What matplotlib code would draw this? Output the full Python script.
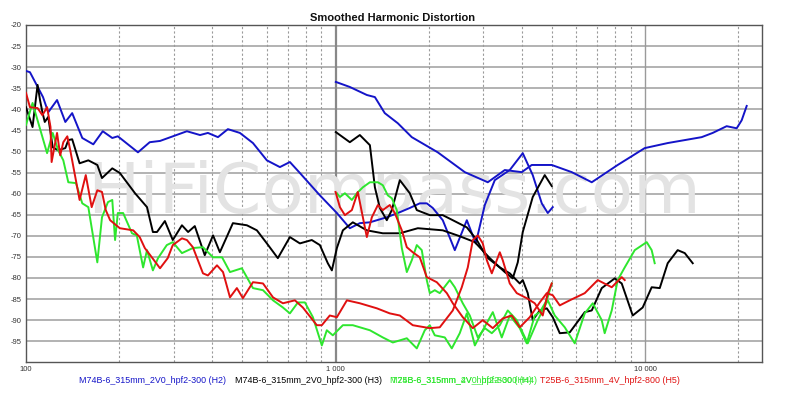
import matplotlib
matplotlib.use("Agg")
import matplotlib.pyplot as plt
from matplotlib.ticker import FixedLocator, NullLocator

# ── data (Hz, dB) ──────────────────────────────────────────
# set A: M74B-6_315mm_2V0_hpf2-300
h2a_f = [100, 103, 113.5, 118, 126, 134, 141, 152, 165, 177, 190, 198, 230, 251, 271,
         331, 365, 387, 417, 449, 491, 541, 600, 661, 712, 767, 890, 1010, 1112, 1198,
         1291, 1464, 1613, 1737, 1871, 1971, 2061, 2220, 2428, 2655, 2838, 3035, 3269,
         3654, 4025, 4335, 4636, 4848, 5031]
h2a_db = [-30.9, -31.2, -37.1, -40.7, -37.8, -43.0, -40.9, -46.8, -48.3, -45.2, -46.8,
          -46.4, -50.2, -47.8, -47.5, -45.2, -46.1, -45.6, -46.6, -44.7, -45.6, -48.0,
          -52.1, -53.7, -52.5, -55.1, -60.4, -64.6, -68.2, -67.0, -66.8, -65.6, -64.4,
          -63.4, -62.3, -62.3, -63.4, -66.3, -73.4, -66.3, -71.8, -62.7, -56.8, -54.4,
          -50.4, -55.6, -62.3, -64.6, -63.2]

h3a_f = [100, 105, 109, 111, 113, 115, 118, 122, 127, 134, 137, 141, 149, 159, 170, 176,
         190, 201, 225, 246, 257, 265, 281, 298, 319, 334, 351, 378, 402, 423, 466, 517,
         557, 600, 651, 712, 767, 838, 890, 944, 973, 1010, 1056, 1137, 1262, 1421, 1613,
         1844, 2220, 2519, 2818, 3150, 3521, 3736, 3878, 4025, 4335, 4740, 4994]
h3a_db = [-39.5, -44.2, -34.2, -37.8, -40.7, -43.0, -41.8, -49.0, -49.7, -49.2, -47.3,
          -47.1, -52.8, -52.1, -53.2, -56.3, -54.0, -55.1, -59.9, -63.2, -69.1, -69.1,
          -66.5, -71.0, -67.5, -69.1, -67.7, -74.6, -69.9, -73.9, -67.0, -67.5, -68.7,
          -71.8, -75.3, -70.3, -71.8, -71.0, -72.2, -76.5, -78.2, -72.9, -68.7, -66.8,
          -68.7, -69.4, -69.4, -68.2, -68.7, -70.1, -71.5, -75.3, -78.6, -80.1, -76.3,
          -69.1, -60.8, -55.6, -58.2]

h4a_f = [100, 105, 117, 122, 127, 132, 137, 145, 152, 159, 170, 176, 184, 190, 194, 198,
         206, 220, 228, 239, 246, 257, 267, 285, 298, 319, 346, 373, 402, 430, 456, 498,
         541, 583, 628, 676, 712, 756, 796, 845, 903, 937, 980, 1056, 1137, 1291, 1421,
         1531, 1699, 1830, 1942, 2016, 2092, 2254, 2374, 2519, 2655, 2818, 2990, 3221,
         3443, 3654, 3936, 4146, 4400, 4567, 4812, 4994]
h4a_db = [-43.7, -38.5, -50.4, -45.6, -49.7, -52.1, -57.3, -57.5, -62.3, -63.2, -76.3,
          -65.6, -62.0, -61.5, -71.0, -64.6, -64.6, -69.4, -69.9, -77.5, -73.4, -78.2,
          -75.3, -72.2, -71.5, -74.1, -72.9, -72.7, -75.1, -75.1, -78.6, -77.7, -82.4,
          -82.9, -85.3, -87.0, -88.4, -85.8, -85.8, -89.3, -96.0, -92.4, -93.6, -91.2,
          -91.2, -92.4, -94.1, -95.3, -94.3, -96.7, -92.4, -91.2, -93.6, -94.1, -96.7,
          -93.1, -88.4, -96.0, -92.4, -88.1, -94.1, -88.9, -91.9, -95.5, -88.9, -88.1,
          -85.3, -81.3]

h5a_f = [100, 103, 109, 113, 117, 120, 121, 126, 129, 132, 136, 139, 149, 156, 163, 170,
         176, 181, 187, 201, 222, 233, 242, 255, 271, 287, 298, 319, 331, 346, 373, 387,
         414, 433, 456, 480, 502, 541, 583, 628, 676, 739, 784, 870, 903, 958, 1010, 1088,
         1198, 1360, 1497, 1613, 1776, 2016, 2171, 2392, 2557, 2674, 2776, 2881, 2990,
         3081, 3197, 3393, 3469, 3654, 3850, 4146, 4400, 4670, 4848, 4994]
h5a_db = [-36.1, -39.5, -39.7, -41.4, -39.5, -44.2, -52.5, -45.6, -50.9, -47.8, -46.4,
          -49.7, -61.5, -55.6, -63.2, -59.2, -59.6, -63.9, -66.3, -68.2, -68.7, -70.3,
          -72.9, -75.1, -77.7, -75.3, -72.2, -70.6, -71.0, -72.7, -78.9, -79.4, -77.0,
          -78.6, -84.6, -82.4, -84.8, -81.0, -81.3, -84.6, -86.0, -85.3, -87.0, -91.2,
          -91.2, -88.9, -89.3, -85.3, -86.0, -87.2, -88.4, -88.9, -91.2, -91.9, -91.7,
          -87.7, -82.2, -77.5, -71.0, -69.9, -71.8, -75.8, -78.9, -73.9, -75.8, -81.3,
          -83.6, -84.8, -86.0, -88.9, -83.6, -81.3]

# set B: T25B-6_315mm_4V_hpf2-800
h2b_f = [1002, 1112, 1262, 1340, 1442, 1589, 1763, 2139, 2615, 3103, 3521, 3995, 4303,
         4994, 5795, 6724, 8155, 9970, 11830, 15230, 16530, 18340, 19760, 20510, 21290]
h2b_db = [-33.5, -34.7, -36.6, -37.1, -40.9, -43.3, -46.6, -50.2, -54.9, -57.3, -54.4,
          -54.9, -53.2, -53.2, -54.9, -57.3, -53.2, -49.2, -48.0, -46.6, -45.6, -44.0,
          -44.5, -42.6, -39.2]

h3b_f = [1002, 1112, 1198, 1291, 1340, 1390, 1464, 1520, 1613, 1737, 1830, 2016, 2220,
         2392, 2655, 2860, 3081, 3393, 3654, 3936, 4025, 4177, 4335, 4567, 4812, 5031,
         5300, 5709, 6383, 6724, 7243, 7979, 8403, 9120, 9822, 10500, 11150, 11830,
         12740, 13430, 14250]
h3b_db = [-45.4, -47.8, -46.1, -48.5, -58.5, -63.4, -66.3, -63.9, -56.8, -59.9, -63.9,
          -65.1, -65.1, -66.3, -68.0, -71.0, -75.1, -77.5, -78.9, -81.3, -80.5, -83.6,
          -90.0, -87.7, -87.2, -89.3, -93.1, -92.9, -88.1, -87.7, -82.4, -80.1, -81.3,
          -88.9, -87.0, -82.2, -82.4, -76.5, -73.4, -74.1, -76.5]

h4b_f = [1010, 1033, 1072, 1129, 1172, 1225, 1291, 1370, 1421, 1475, 1520, 1577, 1637,
         1699, 1763, 1830, 1899, 1971, 2016, 2092, 2171, 2339, 2428, 2576, 2714, 2881,
         3035, 3197, 3393, 3600, 3850, 4177, 4500, 4848, 5107, 5501, 5925, 6383, 6774,
         7243, 7403, 7802, 8155, 8592, 9257, 10120, 10500, 10740]
h4b_db = [-59.9, -60.8, -59.9, -61.5, -59.9, -58.5, -57.3, -57.3, -58.0, -60.4, -61.1,
          -63.9, -72.9, -78.6, -75.8, -72.2, -73.4, -80.5, -83.6, -82.9, -83.6, -80.5,
          -82.2, -86.0, -88.9, -94.1, -91.9, -93.1, -91.2, -87.7, -90.0, -95.5, -90.0,
          -85.3, -88.9, -91.7, -95.5, -88.4, -86.0, -90.0, -93.1, -87.7, -80.5, -77.5,
          -73.4, -71.5, -73.4, -76.5]

h5b_f = [1000, 1033, 1072, 1129, 1180, 1262, 1310, 1370, 1421, 1497, 1554, 1637, 1699,
         1776, 1871, 1971, 2123, 2288, 2392, 2576, 2776, 2990, 3221, 3469, 3709, 3936,
         4240, 4567, 4812, 5031, 5300, 5709, 6383, 7031, 7802, 8403, 8592]
h5b_db = [-59.6, -63.2, -65.1, -63.9, -59.6, -70.3, -65.6, -62.7, -63.9, -62.7, -64.6,
          -68.7, -72.7, -73.9, -75.1, -79.8, -81.0, -83.6, -86.0, -89.3, -91.9, -90.0,
          -91.9, -89.6, -88.9, -91.7, -89.3, -85.8, -83.6, -84.1, -86.5, -85.3, -83.6,
          -80.5, -82.2, -79.8, -80.5]

y_ticks = [-20, -25, -30, -35, -40, -45, -50, -55, -60, -65, -70, -75, -80, -85, -90, -95]
x_major = [100, 1000, 10000]
x_major_labels = ["100", "1 000", "10 000"]
x_minor = [200, 300, 400, 500, 600, 700, 800, 900,
           2000, 3000, 4000, 5000, 6000, 7000, 8000, 9000, 20000]

title = "Smoothed Harmonic Distortion"
legend_blue = "M74B-6_315mm_2V0_hpf2-300 (H2)"
legend_black = "M74B-6_315mm_2V0_hpf2-300 (H3)"
legend_green_a = "M74B-6_315mm_2V0_hpf2-300 (H4)"
legend_green_b = "T25B-6_315mm_4V_hpf2-800 (H4)"
legend_red = "T25B-6_315mm_4V_hpf2-800 (H5)"

BLUE = "#1414c8"
BLACK = "#000000"
GREEN = "#2ee62e"
RED = "#e01010"

plt.rcParams["font.family"] = ["Liberation Sans", "DejaVu Sans"]

fig = plt.figure(figsize=(7.85, 3.98), dpi=100)
ax = fig.add_axes([0.0331, 0.0897, 0.9372, 0.8475])

ax.set_xscale("log")
ax.set_xlim(100, 23800)
ax.set_ylim(-100, -20)

# grid
for y in y_ticks[1:]:
    ax.axhline(y, color="#a6a6a6", lw=1.2, zorder=1)
for x in x_minor:
    ax.axvline(x, color="#9a9a9a", lw=0.8, ls=(0, (2, 2)), zorder=1)
ax.axvline(1000, color="#888888", lw=1.6, zorder=1)
ax.axvline(10000, color="#9a9a9a", lw=1.0, zorder=1)

# watermark
ax.text(0.5, 0.443, "HiFiCompass.com", transform=ax.transAxes, ha="center",
        va="baseline", fontsize=50, color="#e3e3e3", family="DejaVu Sans",
        zorder=1.5)

lw = 1.4
ax.plot(h2a_f, h2a_db, color=BLUE, lw=lw, zorder=3)
ax.plot(h2b_f, h2b_db, color=BLUE, lw=lw, zorder=3)
ax.plot(h3a_f, h3a_db, color=BLACK, lw=lw, zorder=3)
ax.plot(h3b_f, h3b_db, color=BLACK, lw=lw, zorder=3)
ax.plot(h4a_f, h4a_db, color=GREEN, lw=lw, zorder=3)
ax.plot(h4b_f, h4b_db, color=GREEN, lw=lw, zorder=3)
ax.plot(h5a_f, h5a_db, color=RED, lw=lw, zorder=3)
ax.plot(h5b_f, h5b_db, color=RED, lw=lw, zorder=3)

ax.xaxis.set_major_locator(FixedLocator(x_major))
ax.xaxis.set_minor_locator(NullLocator())
ax.set_xticklabels(x_major_labels)
ax.set_yticks(y_ticks)
ax.set_yticklabels([str(v) for v in y_ticks])
ax.tick_params(axis="both", length=0, labelsize=5.5, colors="#333333")
ax.tick_params(axis="x", pad=3)
ax.tick_params(axis="y", pad=3)
for s in ax.spines.values():
    s.set_color("#555555")
    s.set_linewidth(1.0)

fig.text(0.5, 0.955, title, ha="center", va="center", fontsize=8,
         fontweight="bold", color="#111111")

# legend texts (the green entries overlap in the original too)
ly = 0.045
fs = 6.4
fig.text(79 / 785, ly, legend_blue, color=BLUE, fontsize=fs, va="center")
fig.text(235 / 785, ly, legend_black, color=BLACK, fontsize=fs, va="center")
fig.text(390 / 785, ly, legend_green_a, color=GREEN, fontsize=fs, va="center")
fig.text(392 / 785, ly, legend_green_b, color=GREEN, fontsize=fs, va="center")
fig.text(540 / 785, ly, legend_red, color=RED, fontsize=fs, va="center")

fig.savefig("out.png", dpi=100)
